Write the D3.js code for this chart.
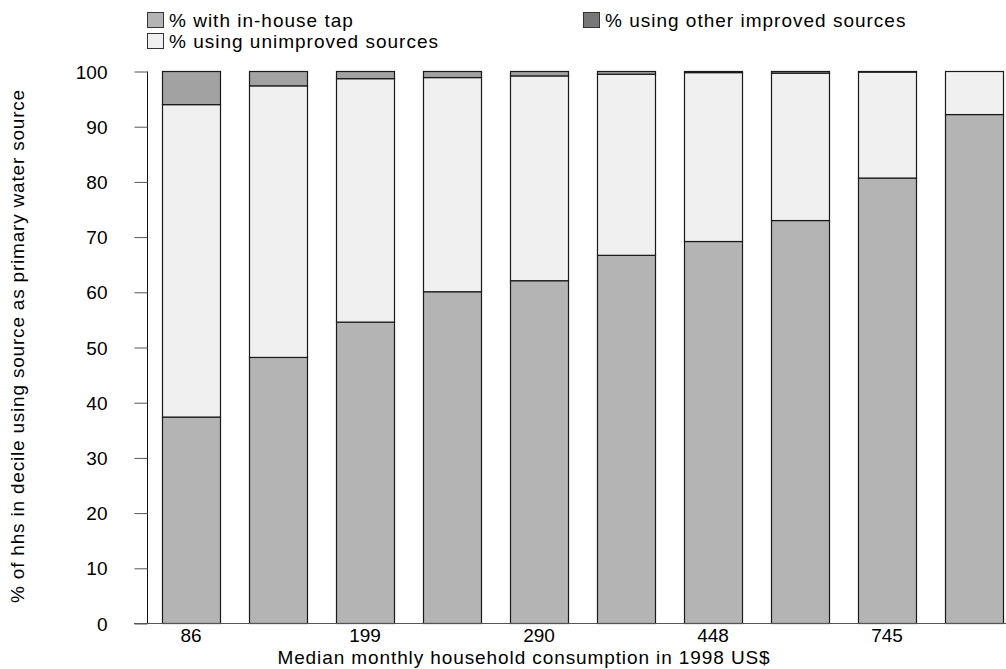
<!DOCTYPE html>
<html><head><meta charset="utf-8">
<script src="https://cdn.jsdelivr.net/npm/d3@7"></script>
<style>
body{margin:0;background:#fff;}
text{font-family:"Liberation Sans",Arial,sans-serif;fill:#000;}
</style></head>
<body><svg id="c" width="1006" height="669"></svg>
<script>
const categories = ["86","d2","199","d4","290","d6","448","d8","745","d10"];
const tickLabels = ["86","","199","","290","","448","","745",""];
const tapValues = [37.4,48.2,54.6,60.1,62.1,66.7,69.2,73.0,80.7,92.2];
const unimprovedValues = [56.6,49.2,44.1,38.8,37.1,32.8,30.6,26.7,19.2,7.8];
const otherValues = [6.0,2.6,1.3,1.1,0.8,0.5,0.2,0.3,0.1,0.0];
const yTicks = [0,10,20,30,40,50,60,70,80,90,100];
const seriesKeys = ["tap","unimproved","other"];
const seriesLabels = ["% with in-house tap","% using unimproved sources","% using other improved sources"];
const seriesColors = ["#b4b4b4","#f0f0f0","#a2a2a2"];
const legendSwatch = ["#b4b4b4","#f0f0f0","#777777"];

const rows = categories.map((c,i)=>({cat:c,tap:tapValues[i],unimproved:unimprovedValues[i],other:otherValues[i]}));
const svg = d3.select("#c");
const x = d3.scaleBand().domain(categories).range([147.5,1017.5]).paddingInner(1/3).paddingOuter(1/6);
const y = d3.scaleLinear().domain([0,100]).range([623.5,71.5]);

const stack = d3.stack().keys(seriesKeys)(rows);
svg.append("g").selectAll("g").data(stack).join("g")
  .attr("fill",(d,i)=>seriesColors[i])
  .selectAll("rect").data(d=>d).join("rect")
  .attr("x",d=>Math.round(x(d.data.cat))+0.5)
  .attr("width",Math.round(x.bandwidth()))
  .attr("y",d=>y(d[1]))
  .attr("height",d=>Math.max(0,y(d[0])-y(d[1])))
  .attr("stroke",d=>(d[1]-d[0])>0?"#1a1a1a":"none")
  .attr("stroke-width",1.2);

// y axis
const ya = svg.append("g").attr("transform","translate(147.5,0)")
  .call(d3.axisLeft(y).tickValues(yTicks).tickSize(13).tickPadding(27).tickFormat(d3.format("d")));
ya.select(".domain").attr("d","M0,"+y(100)+"V"+y(0)).attr("stroke","#111");
ya.selectAll(".tick line").attr("stroke","#555");
ya.selectAll(".tick text").attr("font-size",19).attr("font-family","Liberation Sans, Arial, sans-serif").attr("fill","#000").attr("dy","0.35em");

// x axis
const xa = svg.append("g").attr("transform","translate(0,623.5)")
  .call(d3.axisBottom(x).tickSize(0).tickPadding(5).tickFormat((d,i)=>tickLabels[i]));
xa.select(".domain").attr("d","M134,0H1006").attr("stroke","#555");
xa.selectAll(".tick text").attr("font-size",19).attr("font-family","Liberation Sans, Arial, sans-serif").attr("fill","#000");

// axis titles
svg.append("text").attr("x",524).attr("y",664).attr("text-anchor","middle").attr("font-size",19)
  .attr("letter-spacing",0.9)
  .text("Median monthly household consumption in 1998 US$");
svg.append("text").attr("transform","translate(24,346) rotate(-90)").attr("text-anchor","middle").attr("font-size",19)
  .attr("letter-spacing",0.8)
  .text("% of hhs in decile using source as primary water source");

// legend
const legPos = [[147,12],[147,33],[583,12]];
const leg = svg.append("g").selectAll("g").data(seriesLabels).join("g")
  .attr("transform",(d,i)=>`translate(${legPos[i][0]},${legPos[i][1]})`);
leg.append("rect").attr("x",0.5).attr("y",0.5).attr("width",16).attr("height",15)
  .attr("fill",(d,i)=>legendSwatch[i]).attr("stroke","#333");
leg.append("text").attr("x",22).attr("y",15).attr("font-size",19).attr("letter-spacing",1).text(d=>d);
</script></body></html>
